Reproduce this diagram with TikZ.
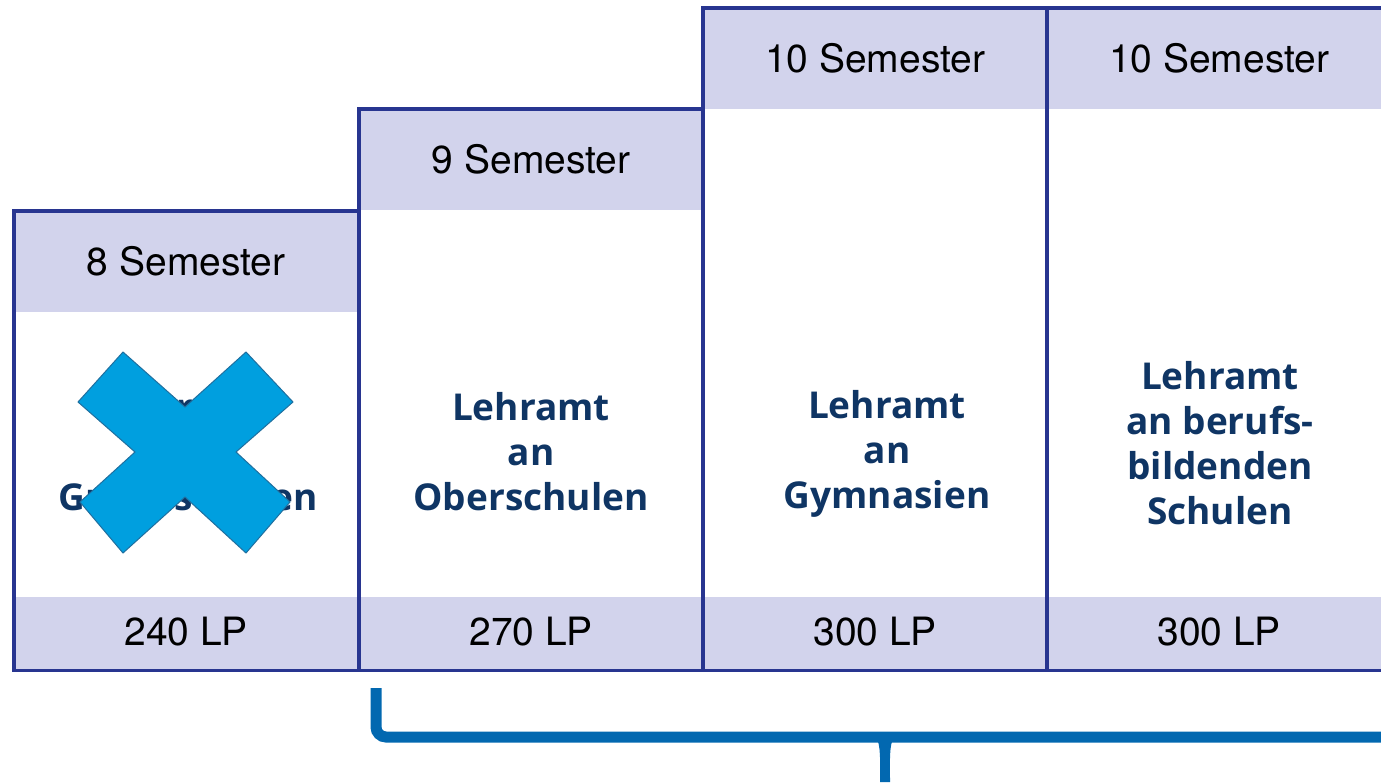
\documentclass[tikz,border=0pt]{standalone}
\usepackage{fontspec}
\setmainfont{TeX Gyre Heros}
\newfontfamily\bodyfont{Open Sans}
\definecolor{lav}{HTML}{D2D3EC}
\definecolor{frame}{HTML}{283590}
\definecolor{navy}{HTML}{0F3564}
\definecolor{xblue}{HTML}{009FDF}
\definecolor{xedge}{HTML}{1F6F9F}
\definecolor{brace}{HTML}{0268B0}
\tikzset{
  band/.style={fill=lav, draw=none, minimum width=344pt, inner sep=0pt, anchor=north west,
    font=\fontsize{39}{44}\selectfont, text=black},
  colframe/.style={draw=frame, line width=3.5pt},
  title/.style={font=\bodyfont\bfseries\fontsize{37}{45}\selectfont, text=navy, align=center, inner sep=0pt},
  bracepath/.style={draw=brace, line width=11pt},
}
\begin{document}
\begin{tikzpicture}[x=1pt,y=-1pt]
\useasboundingbox (0,0) rectangle (1381,782);
\clip (0,0) rectangle (1381,782);
% column 1
\node[band, minimum height=101pt] (h1) at (14,211) {8 Semester};
\node[band, minimum height=73pt] (f1) at (14,597) {\raisebox{4pt}{240 LP}};
\node[title] (t1) at (188,452) {Lehramt\\an\\Grundschulen};
% column 2
\node[band, minimum height=101pt] (h2) at (359,109) {9 Semester};
\node[band, minimum height=73pt] (f2) at (359,597) {\raisebox{4pt}{270 LP}};
\node[title] (t2) at (531,452) {Lehramt\\an\\Oberschulen};
% column 3
\node[band, minimum height=101pt] (h3) at (703,8) {10 Semester};
\node[band, minimum height=73pt] (f3) at (703,597) {\raisebox{4pt}{300 LP}};
\node[title] (t3) at (887,454) {Lehramt\\an\\Gymnasien};
% column 4
\node[band, minimum height=101pt] (h4) at (1047,8) {10 Semester};
\node[band, minimum height=73pt] (f4) at (1047,597) {\raisebox{4pt}{300 LP}};
\node[title] (t4) at (1220,443) {Lehramt\\an berufs-\\bildenden\\Schulen};
% frames
\draw[colframe] (h1.north west) rectangle (f1.south east);
\draw[colframe] (h2.north west) rectangle (f2.south east);
\draw[colframe] (h3.north west) rectangle (f3.south east);
\draw[colframe] (h4.north west) rectangle (f4.south east);
% cross
\draw[fill=xblue, draw=xedge, line width=1pt]
  (123,352) -- (185,407) -- (246,352) -- (293,402) -- (236,452) -- (290,502)
  -- (246,553) -- (185,497) -- (123,553) -- (80,502) -- (135,452) -- (78,402) -- cycle;
% brace
\coordinate (bl) at (376,688);
\coordinate (bc) at (885,737);
\coordinate (br) at (1395,737);
\coordinate (bt) at (885,782);
\draw[bracepath, rounded corners=10pt] (bl) -- (bl |- bc) -- (br);
\fill[brace] (876,737) .. controls (881,745) and (880,760) .. (880,782) -- (890,782)
  .. controls (890,760) and (889,745) .. (894,737) -- cycle;
\end{tikzpicture}
\end{document}
